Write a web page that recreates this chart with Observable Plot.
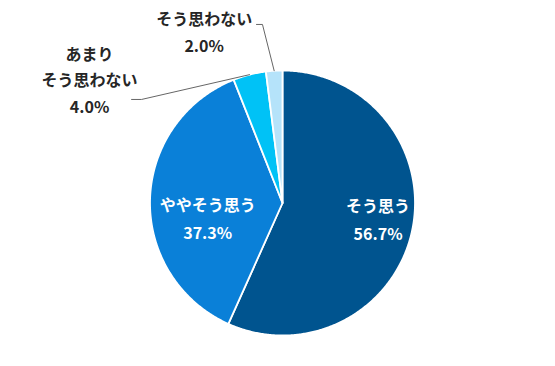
<!DOCTYPE html>
<html><head><meta charset="utf-8">
<script src="https://cdn.jsdelivr.net/npm/d3@7"></script>
<script src="https://cdn.jsdelivr.net/npm/@observablehq/plot@0.6"></script>
<style>html,body{margin:0;padding:0;background:#fff}</style>
</head><body><div id="chart"></div>
<script>
// ---- data ----
const categories = ["そう思う", "ややそう思う", "あまり\nそう思わない", "そう思わない"];
const values = [56.7, 37.3, 4.0, 2.0];
const valueLabels = ["56.7%", "37.3%", "4.0%", "2.0%"];
const colors = ["#00548f", "#0a80d8", "#00c2f6", "#b5e3fa"];

// ---- layout ----
const W = 555, H = 366, CX = 282, CY = 202.5, R = 132.5;
// label placement: radius (fraction of pie radius) along the slice mid-angle + pixel offsets
const labelLayout = [
  {r: 0.73, dx: 1, dy: -6, inside: true},
  {r: 0.58, dx: 2, dy: 15, inside: true},
  {r: 1, dx: -160, dy: 3, inside: false, elbow: [-108, 24.8], start: [-118, 24.8]},
  {r: 1, dx: -70, dy: -41, inside: false, elbow: [-11.7, -46.3], start: [-17.7, -46.3]}
];

const total = d3.sum(values);
let cum = 0;
const slices = values.map((v, i) => {
  const a0 = cum / total * 2 * Math.PI; cum += v;
  const a1 = cum / total * 2 * Math.PI;
  return {cat: categories[i], a0, a1, mid: (a0 + a1) / 2, i};
});

const pts = [];
for (const s of slices) {
  pts.push({cat: s.cat, x: 0, y: 0});
  const n = Math.max(2, Math.ceil((s.a1 - s.a0) / (Math.PI / 360)));
  for (let k = 0; k <= n; k++) {
    const a = s.a0 + (s.a1 - s.a0) * k / n;
    pts.push({cat: s.cat, x: Math.sin(a), y: Math.cos(a)});
  }
  pts.push({cat: s.cat, x: 0, y: 0});
}

const labels = slices.map((s, i) => {
  const L = labelLayout[i];
  return {
    text: categories[i] + "\n" + valueLabels[i],
    inside: L.inside,
    x: L.r * Math.sin(s.mid) + L.dx / R,
    y: L.r * Math.cos(s.mid) - L.dy / R
  };
});

const leaders = [];
slices.forEach((s, i) => {
  const L = labelLayout[i];
  if (L.inside) return;
  const ex = Math.sin(s.mid), ey = Math.cos(s.mid);
  leaders.push({id: i, x: ex + L.start[0] / R, y: ey - L.start[1] / R});
  leaders.push({id: i, x: ex + L.elbow[0] / R, y: ey - L.elbow[1] / R});
  leaders.push({id: i, x: ex, y: ey});
});

const font = "'Noto Sans CJK JP', 'Noto Sans', sans-serif";

const chart = Plot.plot({
  width: W, height: H,
  margin: 0,
  style: {background: "#fff", fontFamily: font},
  x: {domain: [-CX / R, (W - CX) / R], axis: null},
  y: {domain: [-(H - CY) / R, CY / R], axis: null},
  color: {domain: categories, range: colors},
  marks: [
    Plot.line(pts, {x: "x", y: "y", z: "cat", fill: "cat", stroke: "white", strokeWidth: 1.8, curve: "linear", strokeLinejoin: "round"}),
    Plot.line(leaders, {x: "x", y: "y", z: "id", stroke: "#666", strokeWidth: 1}),
    Plot.text(labels.filter(d => d.inside), {x: "x", y: "y", text: "text", fill: "white", fontSize: 16, fontWeight: "bold", lineHeight: 1.7, fontFamily: font}),
    Plot.text(labels.filter(d => !d.inside), {x: "x", y: "y", text: "text", fill: "#262626", fontSize: 16, fontWeight: "bold", lineHeight: 1.66, fontFamily: font})
  ]
});
document.getElementById("chart").appendChild(chart);
</script>
</body></html>
